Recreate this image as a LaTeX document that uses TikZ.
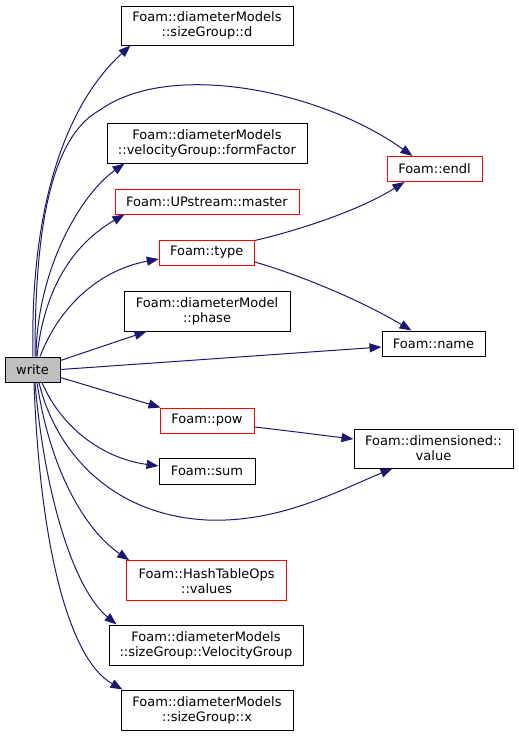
\documentclass[tikz,border=0pt]{standalone}
\usepackage{fontspec}
\setmainfont{DejaVu Sans}
\usetikzlibrary{arrows.meta}
\definecolor{edgeblue}{HTML}{191970}
\definecolor{hlgray}{HTML}{BFBFBF}
\tikzset{
  box/.style={draw=black, line width=1pt, inner sep=0pt, align=center,
    font=\fontsize{13}{15}\selectfont},
  redbox/.style={box, draw=red},
  edge/.style={draw=edgeblue, line width=1pt,
    -{Triangle[length=12pt,width=9pt]}},
}
\begin{document}
\begin{tikzpicture}[x=1pt,y=-1pt]
\useasboundingbox (0,0) rectangle (519,737);
% nodes
\node[box, fill=hlgray, minimum width=55, minimum height=25] (write) at (32.5,369.5) {write};
\node[box, minimum width=172, minimum height=39] (d) at (207,25.5) {Foam::diameterModels\\::sizeGroup::d};
\node[box, minimum width=200, minimum height=40] (ff) at (207,143) {Foam::diameterModels\\::velocityGroup::formFactor};
\node[redbox, minimum width=184, minimum height=25] (master) at (207,201.5) {Foam::UPstream::master};
\node[redbox, minimum width=95, minimum height=25] (type) at (206.75,252.5) {Foam::type};
\node[box, minimum width=166, minimum height=40] (phase) at (207,311) {Foam::diameterModel\\::phase};
\node[box, minimum width=103, minimum height=25] (name) at (433.5,343.5) {Foam::name};
\node[redbox, minimum width=95, minimum height=25] (endl) at (434.5,169) {Foam::endl};
\node[redbox, minimum width=94, minimum height=25] (pow) at (207,420.5) {Foam::pow};
\node[box, minimum width=159, minimum height=39] (value) at (433.5,448.5) {Foam::dimensioned::\\value};
\node[box, minimum width=96, minimum height=26] (sum) at (207,471) {Foam::sum};
\node[redbox, minimum width=160, minimum height=40] (hash) at (206.7,580.7) {Foam::HashTableOps\\::values};
\node[box, minimum width=194, minimum height=40] (vel) at (206,645) {Foam::diameterModels\\::sizeGroup::VelocityGroup};
\node[box, minimum width=172, minimum height=40] (x) at (207,710) {Foam::diameterModels\\::sizeGroup::x};
% edges from write
\draw[edge] ([xshift=0.5]write.north) .. controls (30,220) and (60,110) .. ([xshift=10]d.south west);
\draw[edge] ([xshift=2.5]write.north) .. controls (35,250) and (45,140) .. (100,110) .. controls (170,60) and (320,90) .. ([xshift=26]endl.north west);
\draw[edge] ([xshift=3.5]write.north) .. controls (37,270) and (80,195) .. ([xshift=18]ff.south west);
\draw[edge] ([xshift=4.5]write.north) .. controls (45,280) and (80,240) .. ([xshift=10]master.south west);
\draw[edge] ([xshift=7.5]write.north) .. controls (60,305) and (100,270) .. ([yshift=-6.5]type.west);
\draw[edge] ([yshift=-4]write.north east) -- ([xshift=23]phase.south west);
\draw[edge] (write.east) -- ([yshift=-3.5]name.west);
\draw[edge] ([yshift=-8]write.east) -- ([xshift=1]pow.north west);
\draw[edge] ([xshift=9.5]write.south) .. controls (60,425) and (100,458) .. ([yshift=5]sum.west);
\draw[edge] ([xshift=6.5]write.south) .. controls (55,450) and (110,515) .. (207,520) .. controls (280,523) and (340,490) .. ([xshift=39]value.south west);
\draw[edge] ([xshift=4.5]write.south) .. controls (50,470) and (85,530) .. ([xshift=3]hash.north west);
\draw[edge] ([xshift=2.5]write.south) .. controls (45,500) and (75,590) .. ([xshift=8]vel.north west);
\draw[edge] ([xshift=1.5]write.south) .. controls (40,550) and (70,660) .. ([xshift=2]x.north west);
% edges from others
\draw[edge] ([yshift=-1]type.north east) .. controls (300,230) and (360,210) .. ([xshift=18]endl.south west);
\draw[edge] ([yshift=-9.5]type.east) .. controls (300,275) and (360,300) .. ([xshift=30]name.north west);
\draw[edge] ([yshift=-6.5]pow.east) .. controls (290,431) and (320,435) .. ([yshift=9.5]value.west);
\end{tikzpicture}
\end{document}
